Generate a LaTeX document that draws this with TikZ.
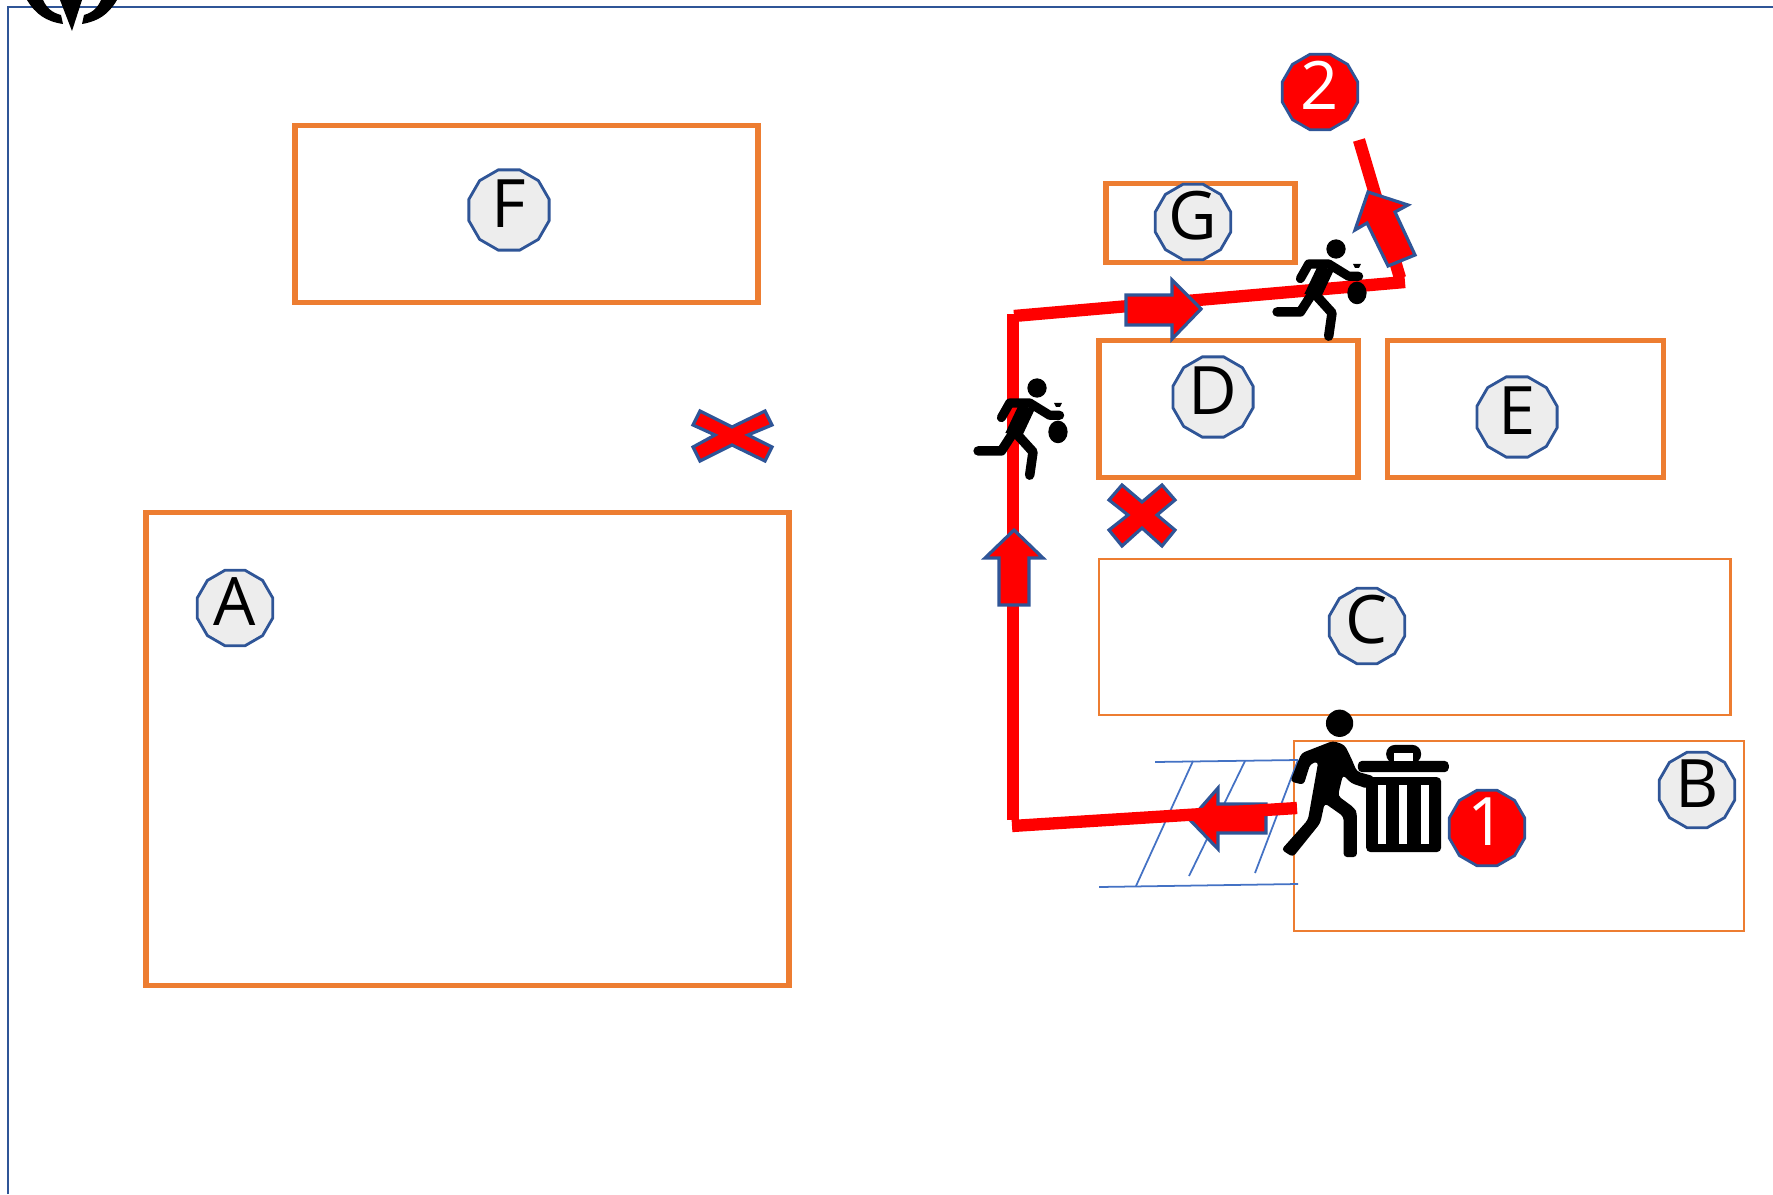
\documentclass[tikz,border=0pt]{standalone}
\usepackage{fontspec}
\setmainfont{Open Sans}
\usetikzlibrary{shapes.geometric}
\definecolor{zoneorange}{HTML}{ED7D31}
\definecolor{edgeblue}{HTML}{2F5597}
\definecolor{hatchblue}{HTML}{4472C4}
\definecolor{tagfill}{HTML}{EDEDED}
\tikzset{
	zone/.style={draw=zoneorange,line width=1.6pt,inner sep=0pt},
	thinzone/.style={draw=zoneorange,line width=.75pt,inner sep=0pt},
	tag/.style={regular polygon,regular polygon sides=12,minimum size=.78cm,inner sep=0pt,draw=edgeblue,line width=.8pt,fill=tagfill,font=\fontsize{19}{20}\selectfont,text height=9.9pt,text depth=0pt},
	bigtag/.style={tag,minimum size=.83cm},
	numtag/.style={tag,fill=red,text=white},
	route/.style={draw=red,line width=3.5pt},
	blockarrow/.style={draw=edgeblue,line width=.9pt,fill=red,line join=miter},
	hatch/.style={draw=hatchblue,line width=.5pt},
	pics/thief/.style={code={
		\begin{scope}[x=.00333cm,y=-.00333cm]
			\fill[black] (0,0) circle(29);
			\draw[black,line width=2.6pt,line cap=round,line join=round] (-107,89) -- (-82,45) -- (-22,45) -- (38,82) -- (68,82);
			\fill[black] (-57,55) -- (-5,60) -- (-45,145) -- (-95,135) -- cycle;
			\draw[black,line width=2.7pt,line cap=round,line join=round] (-177,189) -- (-107,189) -- (-67,127);
			\draw[black,line width=2.7pt,line cap=round,line join=round] (-62,137) -- (-12,192) -- (-22,262);
			\fill[black] (63,132) ellipse [x radius=29,y radius=34];
			\fill[black] (51,45) -- (75,45) -- (69,57) -- (57,57) -- cycle;
		\end{scope}
	}}
}
\begin{document}
\begin{tikzpicture}[x=.01cm,y=-.01cm]
	\useasboundingbox (0,0) rectangle (1773,1194);
	
	\draw[edgeblue,line width=.7pt] (8,1194) -- (8,7) -- (1773,7);
	
	% north mark
	\fill[black] (60,0) -- (72,31) -- (82,0) -- cycle;
	\fill[black] (27,0) to[bend right=25] (63,24) -- (61,15) to[bend left=25] (43,0) -- cycle;
	\fill[black] (117,0) to[bend left=25] (82,24) -- (84,15) to[bend right=25] (101,0) -- cycle;
	
	% zones
	\node[zone,minimum width=4.63cm,minimum height=1.77cm] (zoneF) at (526.5,214) {};
	\node[zone,minimum width=6.43cm,minimum height=4.73cm] (zoneA) at (467.5,749) {};
	\node[zone,minimum width=1.89cm,minimum height=.79cm] (zoneG) at (1200.5,223) {};
	\node[zone,minimum width=2.59cm,minimum height=1.37cm] (zoneD) at (1228.5,409) {};
	\node[zone,minimum width=2.76cm,minimum height=1.37cm] (zoneE) at (1525.5,409) {};
	\node[thinzone,minimum width=6.31cm,minimum height=1.56cm] (zoneC) at (1414.5,637) {};
	\node[thinzone,minimum width=4.5cm,minimum height=1.9cm] (zoneB) at (1519,836) {};
	
	% crossing
	\coordinate (hatchTL) at (1155,762);
	\coordinate (hatchTR) at (1298,760);
	\coordinate (hatchBL) at (1099,887);
	\coordinate (hatchBR) at (1298,884);
	\draw[hatch] (hatchTL) -- (hatchTR);
	\draw[hatch] (hatchBL) -- (hatchBR);
	\draw[hatch] (1193,761) -- (1136,886);
	\draw[hatch] (1245,761) -- (1189,876);
	\draw[hatch] (hatchTR) -- (1255,873);
	
	% arrow on the lower leg lies under the route
	\draw[blockarrow] (1190,820) -- (1218,788) -- (1218,804) -- (1266,804) -- (1266,833) -- (1218,833) -- (1218,849) -- cycle;
	
	% route
	\coordinate (routeStart) at (1297,808);
	\coordinate (routeLow) at (1012,826);
	\coordinate (routeBend) at (1013,314);
	\coordinate (routeTop) at (1014,316);
	\coordinate (routeRight) at (1405,282);
	\coordinate (routeTurn) at (1400,278);
	\coordinate (routeEnd) at (1359,140);
	\draw[route] (routeStart) -- (routeLow);
	\draw[route] (1013,820) -- (routeBend);
	\draw[route] (routeTop) -- (routeRight);
	\draw[route] (routeTurn) -- (routeEnd);
	
	\draw[blockarrow] (1014,530) -- (1043,558) -- (1029,558) -- (1029,605) -- (999,605) -- (999,558) -- (985,558) -- cycle;
	\draw[blockarrow] (1201,309) -- (1172,339) -- (1172,325) -- (1126,325) -- (1126,295) -- (1172,295) -- (1172,280) -- cycle;
	\draw[blockarrow] (1368,192) -- (1408,205) -- (1395,212) -- (1415,255) -- (1388,266) -- (1367,223) -- (1355,230) -- cycle;
	
	% closed ways
	\draw[blockarrow] (700,411) -- (732,427) -- (765,411) -- (772,425) -- (748,435) -- (772,447) -- (765,461) -- (732,445) -- (700,461) -- (693,447) -- (715,435) -- (693,425) -- cycle;
	\draw[blockarrow] (1122,485) -- (1142,502) -- (1162,485) -- (1175,500) -- (1157,515) -- (1175,530) -- (1162,546) -- (1142,528) -- (1122,546) -- (1109,530) -- (1128,515) -- (1109,500) -- cycle;
	
	% person and bin
	\begin{scope}[shift={(1080,680)},x=.00333cm,y=-.00333cm]
		\fill[black,rounded corners=1.2pt] (860,292) rectangle (1085,517);
		\fill[white] (895,316) rectangle (918,493);
		\fill[white] (958,316) rectangle (983,493);
		\fill[white] (1025,316) rectangle (1048,493);
		\fill[black,rounded corners=1.2pt] (835,243) rectangle (1108,277);
		\fill[black,rounded corners=2.5pt] (920,250) rectangle (1025,195);
		\fill[white] (943,220) rectangle (1000,243);
		\fill[black] (780,130) circle(41);
		\fill[black,rounded corners=1pt] (760,183) -- (795,195) -- (815,235) -- (832,275) -- (885,290) -- (865,327) -- (815,310) -- (790,285) -- (775,348) -- (825,385) -- (832,400) -- (832,532) -- (792,532) -- (792,410) -- (735,370) -- (722,430) -- (640,532) -- (605,510) -- (685,420) -- (716,245) -- (692,252) -- (672,315) -- (632,305) -- (665,220) -- cycle;
	\end{scope}
	
	\pic (thiefLow) at (1037,388) {thief};
	\pic (thiefHigh) at (1336,249) {thief};
	
	% tags
	\node[bigtag] (tagF) at (509,210) {F};
	\node[tag] (tagA) at (235,608) {A};
	\node[tag] (tagG) at (1193,222) {G};
	\node[bigtag] (tagD) at (1213,397) {D};
	\node[bigtag] (tagE) at (1517,417) {E};
	\node[tag] (tagC) at (1367,626) {C};
	\node[tag] (tagB) at (1697,790) {B};
	\node[numtag] (tagOne) at (1487,828) {1};
	\node[numtag] (tagTwo) at (1320,92) {2};
\end{tikzpicture}
\end{document}
